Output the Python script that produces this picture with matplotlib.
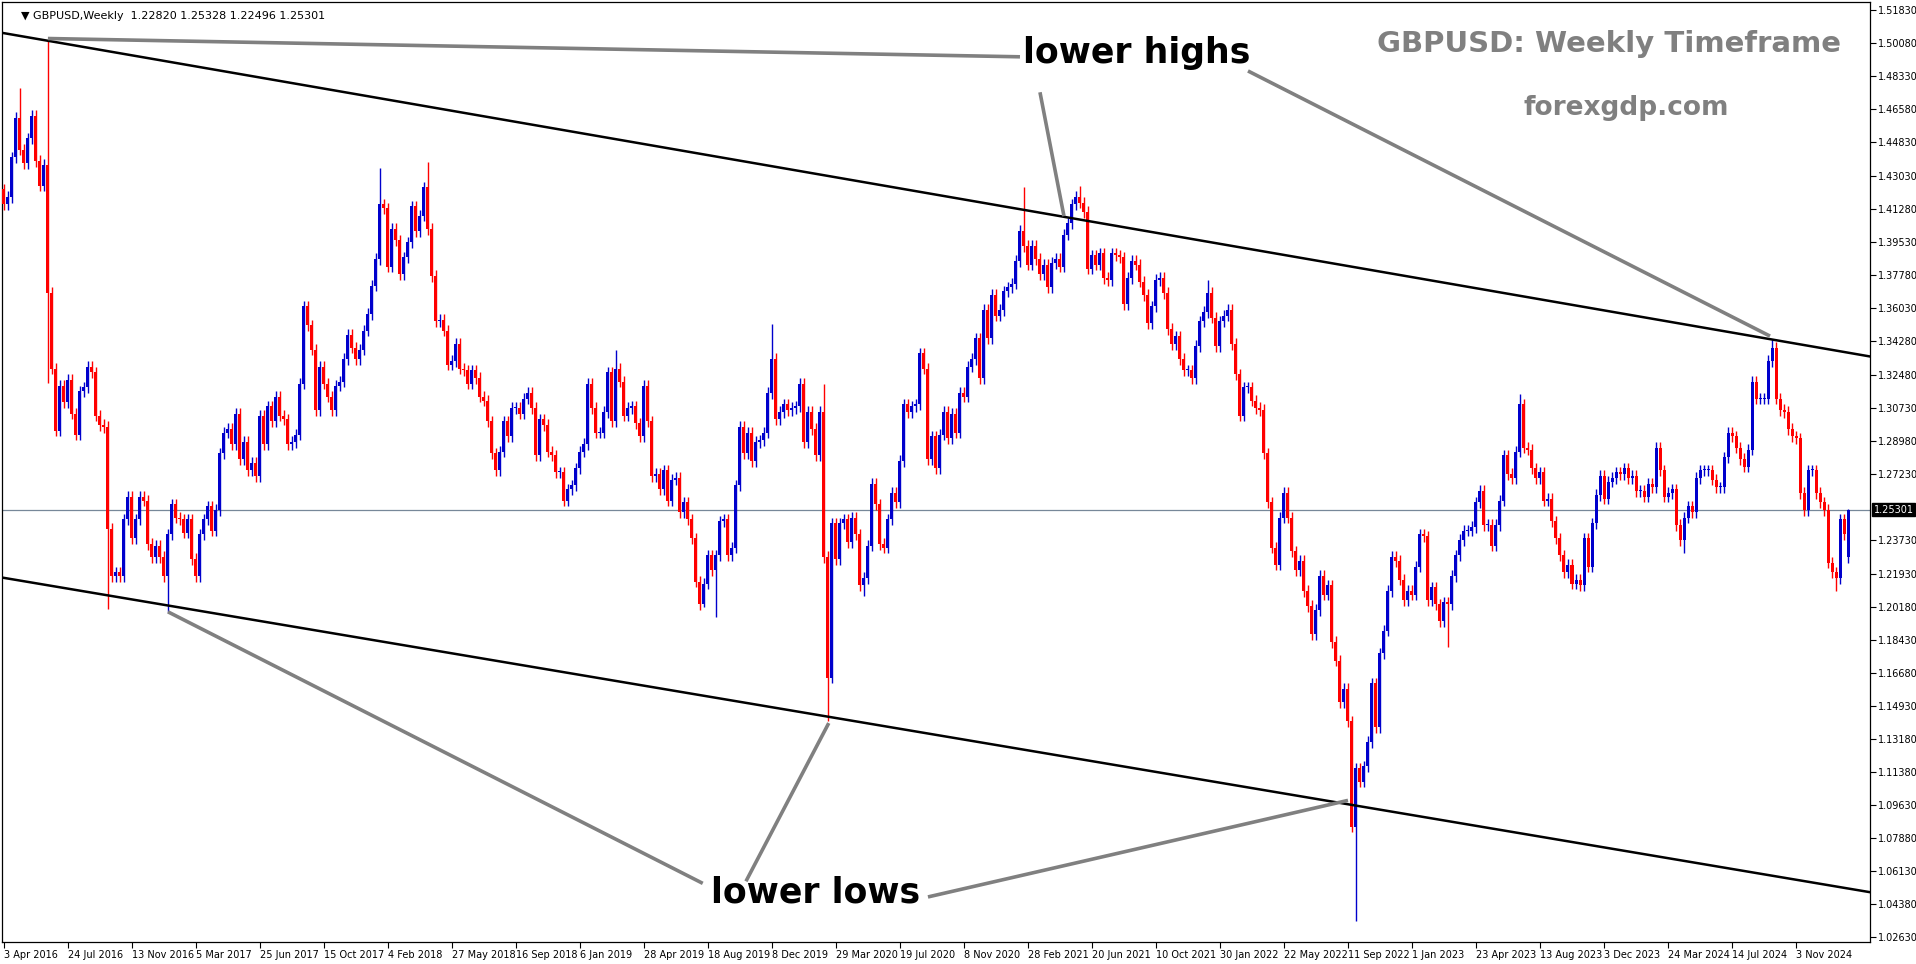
import numpy as np
import pandas as pd
import matplotlib
matplotlib.use("Agg")
import matplotlib.pyplot as plt

# ── weekly closes (GBPUSD), week starting Sunday ─────────────────────────────
closes_2016 = [1.4150, 1.4190, 1.4400, 1.4610, 1.4440, 1.4370, 1.4500, 1.4620, 1.4380,
               1.4250, 1.4360, 1.3680, 1.3280, 1.2950, 1.3190, 1.3100, 1.3220, 1.3040,
               1.2930, 1.3160, 1.3180, 1.3290, 1.3260, 1.3030, 1.2980, 1.2970, 1.2430,
               1.2180, 1.2200, 1.2180, 1.2480, 1.2600, 1.2380, 1.2480, 1.2600, 1.2580,
               1.2350, 1.2280, 1.2340]
closes_2017 = [1.2280, 1.2180, 1.2400, 1.2560, 1.2490, 1.2480, 1.2410, 1.2480, 1.2270,
               1.2180, 1.2400, 1.2480, 1.2550, 1.2420, 1.2530, 1.2830, 1.2940, 1.2960,
               1.2880, 1.3040, 1.2800, 1.2890, 1.2740, 1.2780, 1.2710, 1.3030, 1.2880,
               1.3080, 1.3000, 1.3130, 1.3030, 1.3010, 1.2880, 1.2890, 1.2930, 1.3200,
               1.3610, 1.3510, 1.3380, 1.3060, 1.3290, 1.3200, 1.3130, 1.3060, 1.3190,
               1.3210, 1.3330, 1.3460, 1.3390, 1.3330, 1.3380, 1.3480]
closes_2018 = [1.3570, 1.3720, 1.3860, 1.4150, 1.4130, 1.3820, 1.4020, 1.3960, 1.3780,
               1.3870, 1.3950, 1.4140, 1.4010, 1.4090, 1.4240, 1.4020, 1.3770, 1.3530,
               1.3540, 1.3480, 1.3300, 1.3320, 1.3410, 1.3280, 1.3270, 1.3200, 1.3270,
               1.3230, 1.3130, 1.3110, 1.3000, 1.2830, 1.2740, 1.2840, 1.3000, 1.2920,
               1.3070, 1.3070, 1.3040, 1.3120, 1.3150, 1.3070, 1.2820, 1.3010, 1.2980,
               1.2840, 1.2820, 1.2730, 1.2730, 1.2580, 1.2640, 1.2660]
closes_2019 = [1.2750, 1.2840, 1.2880, 1.3200, 1.3070, 1.2940, 1.2940, 1.3050, 1.3260,
               1.3000, 1.3280, 1.3210, 1.3030, 1.3070, 1.3080, 1.2990, 1.2920, 1.3190,
               1.3000, 1.2710, 1.2720, 1.2640, 1.2740, 1.2580, 1.2690, 1.2700, 1.2520,
               1.2570, 1.2480, 1.2380, 1.2150, 1.2030, 1.2140, 1.2290, 1.2210, 1.2290,
               1.2470, 1.2480, 1.2290, 1.2330, 1.2660, 1.2970, 1.2830, 1.2940, 1.2790,
               1.2890, 1.2900, 1.2940, 1.3150, 1.3330, 1.3010, 1.3050]
closes_2020 = [1.3090, 1.3060, 1.3070, 1.3080, 1.3200, 1.2890, 1.3050, 1.2960, 1.2820,
               1.3050, 1.2280, 1.1640, 1.2460, 1.2270, 1.2460, 1.2480, 1.2360, 1.2490,
               1.2400, 1.2130, 1.2170, 1.2340, 1.2670, 1.2560, 1.2350, 1.2330, 1.2480,
               1.2620, 1.2570, 1.2790, 1.3090, 1.3050, 1.3080, 1.3090, 1.3360, 1.3280,
               1.2800, 1.2920, 1.2750, 1.2930, 1.3050, 1.2910, 1.3040, 1.2940, 1.3150,
               1.3130, 1.3290, 1.3330, 1.3440, 1.3230, 1.3590, 1.3440, 1.3670]
closes_2021 = [1.3560, 1.3590, 1.3690, 1.3710, 1.3730, 1.3850, 1.4010, 1.3930, 1.3830,
               1.3930, 1.3860, 1.3780, 1.3830, 1.3710, 1.3840, 1.3860, 1.3820, 1.3990,
               1.4050, 1.4150, 1.4190, 1.4160, 1.4110, 1.3810, 1.3880, 1.3830, 1.3890,
               1.3760, 1.3750, 1.3890, 1.3880, 1.3870, 1.3620, 1.3760, 1.3850, 1.3830,
               1.3740, 1.3670, 1.3520, 1.3610, 1.3750, 1.3760, 1.3680, 1.3490, 1.3410,
               1.3450, 1.3330, 1.3270, 1.3270, 1.3230, 1.3400, 1.3530]
closes_2022 = [1.3580, 1.3680, 1.3550, 1.3400, 1.3530, 1.3560, 1.3590, 1.3410, 1.3250,
               1.3030, 1.3180, 1.3180, 1.3110, 1.3070, 1.3060, 1.2830, 1.2570, 1.2330,
               1.2240, 1.2490, 1.2620, 1.2490, 1.2310, 1.2210, 1.2260, 1.2100, 1.2020,
               1.1870, 1.2000, 1.2180, 1.2080, 1.2130, 1.1830, 1.1730, 1.1510, 1.1580,
               1.1410, 1.0850, 1.1160, 1.1090, 1.1170, 1.1300, 1.1610, 1.1380, 1.1770,
               1.1890, 1.2100, 1.2280, 1.2260, 1.2160, 1.2050, 1.2100]
closes_2023 = [1.2080, 1.2230, 1.2400, 1.2390, 1.2050, 1.2120, 1.2030, 1.1940, 1.2040,
               1.2030, 1.2180, 1.2290, 1.2370, 1.2420, 1.2420, 1.2440, 1.2570, 1.2630,
               1.2450, 1.2450, 1.2340, 1.2450, 1.2580, 1.2820, 1.2720, 1.2700, 1.2840,
               1.3090, 1.2860, 1.2850, 1.2750, 1.2700, 1.2730, 1.2580, 1.2590, 1.2470,
               1.2380, 1.2290, 1.2200, 1.2240, 1.2140, 1.2160, 1.2130, 1.2380, 1.2230,
               1.2460, 1.2610, 1.2710, 1.2590, 1.2680, 1.2700, 1.2730]
closes_2024 = [1.2720, 1.2750, 1.2700, 1.2710, 1.2630, 1.2630, 1.2600, 1.2670, 1.2650,
               1.2860, 1.2740, 1.2600, 1.2620, 1.2640, 1.2450, 1.2370, 1.2490, 1.2550,
               1.2520, 1.2700, 1.2740, 1.2740, 1.2740, 1.2690, 1.2650, 1.2650, 1.2810,
               1.2940, 1.2920, 1.2860, 1.2800, 1.2760, 1.2850, 1.3210, 1.3120, 1.3120,
               1.3120, 1.3320, 1.3390, 1.3120, 1.3060, 1.3050, 1.2960, 1.2920, 1.2910,
               1.2620, 1.2530, 1.2740, 1.2740, 1.2620, 1.2570, 1.2530, 1.2250]
closes_2025 = [1.2200, 1.2170, 1.2480, 1.2400, 1.25301]

first_open = 1.4230
last_open = 1.22820

# notable weekly extremes (week start date -> price)
wick_highs = {"2016-05-01": 1.4770, "2016-06-19": 1.5018, "2018-01-21": 1.4345,
              "2018-04-15": 1.4377, "2019-03-10": 1.3380, "2019-12-08": 1.3514,
              "2020-03-08": 1.3200, "2021-02-21": 1.4240, "2021-05-30": 1.4250,
              "2022-01-09": 1.3750, "2023-07-09": 1.3143, "2024-09-22": 1.3434,
              "2025-02-02": 1.25328}
wick_lows = {"2016-06-19": 1.3205, "2016-10-02": 1.2003, "2017-01-15": 1.1990,
             "2019-08-11": 1.2015, "2019-09-01": 1.1960, "2020-03-15": 1.1410,
             "2020-05-17": 1.2075, "2022-09-25": 1.0350, "2023-03-05": 1.1803,
             "2024-04-21": 1.2300, "2025-01-12": 1.2100, "2025-02-02": 1.22496}

price_ticks = [1.51830, 1.50080, 1.48330, 1.46580, 1.44830, 1.43030, 1.41280, 1.39530,
               1.37780, 1.36030, 1.34280, 1.32480, 1.30730, 1.28980, 1.27230, 1.23730,
               1.21930, 1.20180, 1.18430, 1.16680, 1.14930, 1.13180, 1.11380, 1.09630,
               1.07880, 1.06130, 1.04380, 1.02630]
current_price = 1.25301

# channel lines (week index, price)
upper_line = [(11, 1.5018), (442, 1.3434)]
lower_line = [(0, 1.2170), (466, 1.0505)]

# annotation arrows (week index, price)
high_arrows = [((11, 1.5030), (254, 1.4933)), ((259, 1.4745), (265, 1.4088)),
               ((311, 1.4858), (441.5, 1.3452))]
low_arrows = [((174.7, 1.0550), (41, 1.1990)), ((185.5, 1.0561), (206.2, 1.1400)),
              ((231, 1.0478), (336, 1.0990))]

# ── build OHLC ───────────────────────────────────────────────────────────────
closes = np.array(closes_2016 + closes_2017 + closes_2018 + closes_2019 + closes_2020 +
                  closes_2021 + closes_2022 + closes_2023 + closes_2024 + closes_2025)
n = len(closes)
dates = pd.date_range("2016-04-03", periods=n, freq="W-SUN")
opens = np.concatenate([[first_open], closes[:-1]])
opens[-1] = last_open
WICK = 0.003
highs = np.maximum(opens, closes) + WICK
lows = np.minimum(opens, closes) - WICK
for d, v in wick_highs.items():
    highs[dates.get_loc(pd.Timestamp(d))] = v
for d, v in wick_lows.items():
    lows[dates.get_loc(pd.Timestamp(d))] = v
x = np.arange(n)

BLUE = "#0000cc"
RED = "#ff0000"
GREY = "#808080"

fig = plt.figure(figsize=(19.16, 9.64), dpi=100)
ax = fig.add_axes([0.001, 0.023, 0.975, 0.975])
ax.set_xlim(-0.5, 466.5)
ax.set_ylim(1.0240, 1.5224)

up = closes >= opens
cols = np.where(up, BLUE, RED)
ax.vlines(x, lows, highs, colors=cols, lw=1.0, zorder=2)
body = np.maximum(np.abs(closes - opens), 0.0006)
ax.bar(x, body, bottom=np.minimum(opens, closes), width=0.75, color=cols,
       linewidth=0, zorder=3)

ax.axhline(current_price, color="#778899", lw=0.9, zorder=1)

for (x0, y0), (x1, y1) in [upper_line, lower_line]:
    xs = np.array([-1, 467])
    ys = y0 + (y1 - y0) * (xs - x0) / (x1 - x0)
    ax.plot(xs, ys, color="black", lw=1.8, zorder=4)

for (p0, p1) in high_arrows + low_arrows:
    ax.plot([p0[0], p1[0]], [p0[1], p1[1]], color=GREY, lw=2.6,
            solid_capstyle="butt", zorder=5)

# axes styling
ax.yaxis.tick_right()
ax.set_yticks(price_ticks)
ax.set_yticklabels([f"{v:.5f}" for v in price_ticks], fontsize=7)
tick_idx = list(range(0, n, 16))
ax.set_xticks(tick_idx)
ax.set_xticklabels([f"{dates[i].day} {dates[i].strftime('%b %Y')}" for i in tick_idx],
                   fontsize=7, ha="left")
ax.tick_params(axis="both", length=4, width=0.8, pad=2)
for s in ax.spines.values():
    s.set_linewidth(0.9)

ax.text(1.002, current_price, f"{current_price:.5f}", transform=ax.get_yaxis_transform(),
        fontsize=7, color="white", va="center", ha="left",
        bbox=dict(boxstyle="square,pad=0.15", fc="black", ec="black"))

# texts
fig.text(0.011, 0.989, "▼ GBPUSD,Weekly  1.22820 1.25328 1.22496 1.25301",
         fontsize=8, va="top", ha="left")
fig.text(0.5934, 0.945, "lower highs", fontsize=25, fontweight="bold",
         ha="center", va="center")
fig.text(0.4254, 0.074, "lower lows", fontsize=25, fontweight="bold",
         ha="center", va="center")
fig.text(0.961, 0.954, "GBPUSD: Weekly Timeframe", fontsize=21, fontweight="bold",
         color=GREY, ha="right", va="center")
fig.text(0.849, 0.888, "forexgdp.com", fontsize=19, fontweight="bold",
         color=GREY, ha="center", va="center")

fig.savefig("out.png", dpi=100)
